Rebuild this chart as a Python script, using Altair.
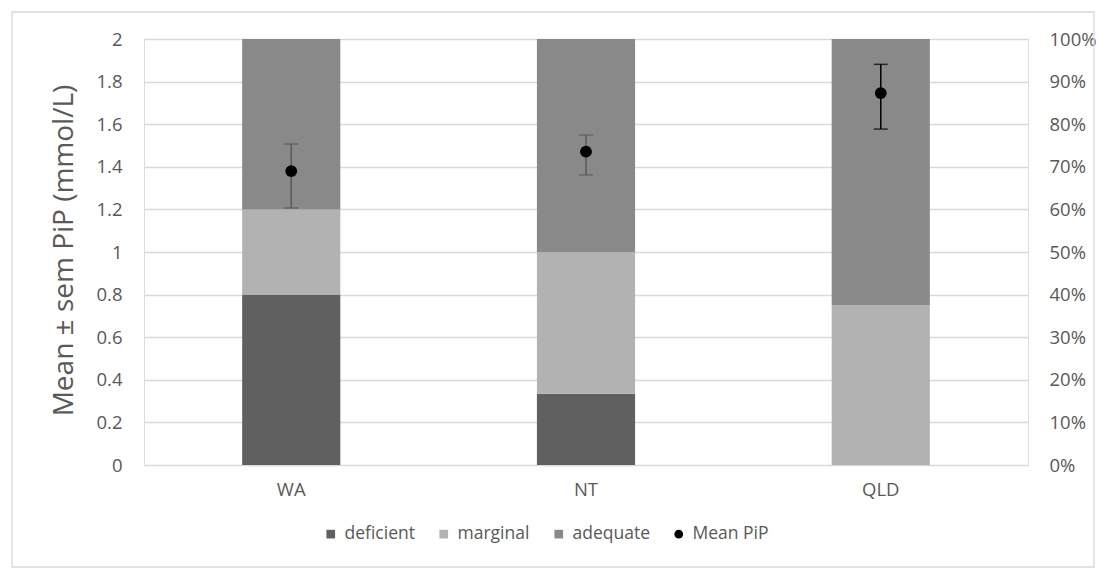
import altair as alt
import pandas as pd

regions = ["WA", "NT", "QLD"]
categories = ["deficient", "marginal", "adequate"]
deficient = [40.0, 16.7, 0.0]
marginal = [20.0, 33.3, 37.5]
adequate = [40.0, 50.0, 62.5]
mean_pip = [1.38, 1.471, 1.746]
sem_low = [1.207, 1.362, 1.577]
sem_high = [1.507, 1.549, 1.881]
err_colors = ["#595959", "#595959", "#000000"]
series_names = ["deficient", "marginal", "adequate", "Mean PiP"]
series_colors = ["#606060", "#b2b2b2", "#898989", "#000000"]
series_shapes = ["square", "square", "square", "circle"]
left_ticks = [0, 0.2, 0.4, 0.6, 0.8, 1.0, 1.2, 1.4, 1.6, 1.8, 2.0]
right_ticks = [0, 0.1, 0.2, 0.3, 0.4, 0.5, 0.6, 0.7, 0.8, 0.9, 1.0]

rows = []
for i, r in enumerate(regions):
    for k, (cat, vals) in enumerate(zip(categories, [deficient, marginal, adequate])):
        rows.append({"region": r, "series": cat, "pct": vals[i] / 100.0, "order": k})
bars_df = pd.DataFrame(rows)
means_df = pd.DataFrame({
    "region": regions,
    "series": ["Mean PiP"] * len(regions),
    "mean": mean_pip,
    "lo": sem_low,
    "hi": sem_high,
    "ec": err_colors,
})

FONT = "Open Sans"
TXT = "#595959"
GRID = "#d9d9d9"
TICK_FS = 18.5

x_enc = alt.X(
    "region:N", sort=regions,
    scale=alt.Scale(paddingInner=0.667, paddingOuter=0.333),
    axis=alt.Axis(title=None, labelAngle=0, ticks=False, domain=False, grid=False,
                  labelPadding=15, labelFontSize=TICK_FS, labelColor=TXT, labelFont=FONT),
)

legend_spec = dict(title=None, orient="none", direction="horizontal", legendX=178, legendY=486,
                   labelFontSize=17.5, labelColor=TXT, labelFont=FONT, symbolSize=75,
                   symbolStrokeWidth=0, columnPadding=20, labelOffset=5, padding=0)

color_enc = alt.Color(
    "series:N",
    scale=alt.Scale(domain=series_names, range=series_colors),
    legend=alt.Legend(**legend_spec),
)

right_axis = alt.Axis(orient="right", format=".0%", values=right_ticks, grid=False, ticks=False,
                      domain=False, labelPadding=21, title=None, labelFontSize=TICK_FS,
                      labelColor=TXT, labelFont=FONT)

bars = alt.Chart(bars_df).mark_bar().encode(
    x=x_enc,
    y=alt.Y("pct:Q", stack="zero", scale=alt.Scale(domain=[0, 1], nice=False), axis=right_axis),
    color=color_enc,
    order=alt.Order("order:Q"),
)

left_axis = alt.Axis(orient="left", values=left_ticks, format="~g", grid=True, gridColor=GRID,
                     gridWidth=1.3, ticks=False, domain=False, labelPadding=22,
                     labelFontSize=TICK_FS, labelColor=TXT, labelFont=FONT,
                     title="Mean ± sem PiP (mmol/L)", titleFontSize=28, titleFont=FONT,
                     titleFontWeight="normal", titleColor=TXT, titleX=-80, titleY=211,
                     titleBaseline="middle", titleAlign="center")
yscale = alt.Scale(domain=[0, 2], nice=False)

base = alt.Chart(means_df)
rule = base.mark_rule(strokeWidth=1.5).encode(
    x=x_enc,
    y=alt.Y("lo:Q", scale=yscale, axis=left_axis),
    y2="hi:Q",
    stroke=alt.Stroke("ec:N", scale=None),
)
tick_lo = base.mark_tick(thickness=1.5, size=14).encode(
    x=x_enc,
    y=alt.Y("lo:Q", scale=yscale, axis=left_axis),
    fill=alt.Fill("ec:N", scale=None),
)
tick_hi = base.mark_tick(thickness=1.5, size=14).encode(
    x=x_enc,
    y=alt.Y("hi:Q", scale=yscale, axis=left_axis),
    fill=alt.Fill("ec:N", scale=None),
)
points = base.mark_point(filled=True, size=140, opacity=1).encode(
    x=x_enc,
    y=alt.Y("mean:Q", scale=yscale, axis=left_axis),
    color=color_enc,
    shape=alt.Shape("series:N", scale=alt.Scale(domain=series_names, range=series_shapes),
                    legend=alt.Legend(**legend_spec)),
)

means_layer = alt.layer(rule, tick_lo, tick_hi, points)

frame = alt.Chart(alt.Data(values=[{"a": 1}])).mark_rect(
    fill="transparent", stroke=GRID, strokeWidth=1.3
).encode(
    x=alt.value(-132), x2=alt.value(950), y=alt.value(-27), y2=alt.value(528)
)

chart = alt.layer(frame, bars, means_layer).resolve_scale(y="independent").properties(
    width=884, height=426,
    autosize=alt.AutoSizeParams(type="none"),
    padding={"left": 136, "top": 31, "right": 71, "bottom": 106},
).configure_view(stroke=None).configure(background="white")

chart.save("out.html", embed_options={"renderer": "svg", "actions": False})
